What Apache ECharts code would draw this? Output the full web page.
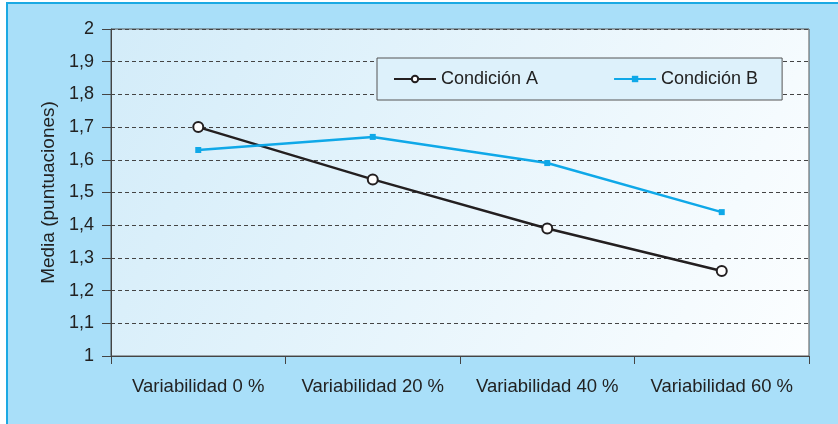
<!DOCTYPE html>
<html>
<head>
<meta charset="utf-8">
<script src="https://cdn.jsdelivr.net/npm/echarts@6/dist/echarts.min.js"></script>
<style>html,body{margin:0;padding:0;background:#fff;}#c{width:838px;height:424px;}</style>
</head>
<body>
<div id="c"></div>
<script>
const categories = ['Variabilidad 0 %', 'Variabilidad 20 %', 'Variabilidad 40 %', 'Variabilidad 60 %'];
const condicionA = [1.70, 1.54, 1.39, 1.26];
const condicionB = [1.63, 1.67, 1.59, 1.44];
const yAxisName = 'Media (puntuaciones)';
const seriesNames = ['Condición A', 'Condición B'];

const FONT = 'Liberation Sans, Arial, sans-serif';
const FS = 18;
const chart = echarts.init(document.getElementById('c'), null, {renderer: 'canvas'});
chart.setOption({
  animation: false,
  backgroundColor: '#ffffff',
  textStyle: {fontFamily: FONT},
  graphic: [
    {type: 'rect', z: -10, shape: {x: 6, y: 2, width: 840, height: 430}, style: {fill: '#1ba9e3'}},
    {type: 'rect', z: -9, shape: {x: 8, y: 4, width: 840, height: 430}, style: {fill: '#a9dff9'}}
  ],
  grid: {
    left: 111, right: 29, top: 29, bottom: 68,
    show: true,
    borderColor: '#555', borderWidth: 1,
    backgroundColor: {type: 'linear', x: 0, y: 0, x2: 1, y2: 1,
      colorStops: [{offset: 0, color: '#d3ecf9'}, {offset: 1, color: '#fcfeff'}]}
  },
  legend: {
    left: 377, top: 58,
    padding: [12, 24, 12, 16],
    itemGap: 75,
    itemWidth: 42, itemHeight: 8,
    backgroundColor: '#ddf1fb',
    borderColor: '#555', borderWidth: 1,
    textStyle: {fontFamily: FONT, fontSize: FS, color: '#222'},
    data: seriesNames
  },
  xAxis: {
    type: 'category', data: categories, boundaryGap: true,
    axisLine: {lineStyle: {color: '#444', width: 1}},
    axisTick: {show: true, length: 8, interval: 0, lineStyle: {color: '#444'}},
    axisLabel: {fontFamily: FONT, fontSize: 18.5, color: '#222', margin: 21, interval: 0}
  },
  yAxis: {
    type: 'value', min: 1, max: 2, interval: 0.1,
    name: yAxisName, nameLocation: 'middle', nameGap: 52,
    nameTextStyle: {fontFamily: FONT, fontSize: 19, color: '#222'},
    axisLine: {show: true, lineStyle: {color: '#444', width: 1}},
    axisTick: {show: true, length: 9, lineStyle: {color: '#444'}},
    axisLabel: {fontFamily: FONT, fontSize: FS, color: '#222', margin: 17,
      formatter: v => String(+v.toFixed(1)).replace('.', ',')},
    splitLine: {show: true, lineStyle: {color: '#444', type: [4, 3], width: 1}}
  },
  series: [
    {name: seriesNames[0], type: 'line', data: condicionA,
      color: '#231f20',
      lineStyle: {color: '#231f20', width: 2.5},
      symbol: 'emptyCircle', symbolSize: 10,
      itemStyle: {color: '#231f20', borderColor: '#231f20', borderWidth: 2.5}},
    {name: seriesNames[1], type: 'line', data: condicionB,
      color: '#0fa8e8',
      lineStyle: {color: '#0fa8e8', width: 2.5},
      symbol: 'rect', symbolSize: 6,
      itemStyle: {color: '#0fa8e8'}}
  ]
});
</script>
</body>
</html>
